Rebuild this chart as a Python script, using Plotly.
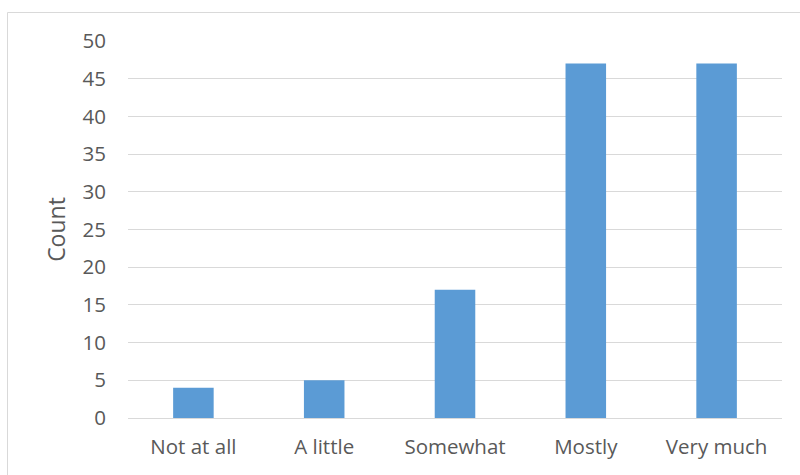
import plotly.graph_objects as go

categories = ["Not at all", "A little", "Somewhat", "Mostly", "Very much"]
counts = [4, 5, 17, 47, 47]
y_ticks = [0, 5, 10, 15, 20, 25, 30, 35, 40, 45, 50]

FONT = "Open Sans"
TXT = "#595959"

fig = go.Figure(go.Bar(x=categories, y=counts, marker=dict(color="#5B9BD5", line=dict(width=0)),
                       width=0.31))

L, R, T, B = 128, 18, 41, 57
W, H = 800, 475
pw, ph = W - L - R, H - T - B

fig.update_layout(
    width=W, height=H,
    margin=dict(l=L, r=R, t=T, b=B, pad=0),
    paper_bgcolor="white", plot_bgcolor="white",
    font=dict(family=FONT, color=TXT, size=20.5),
    showlegend=False,
    bargap=0.69,
    xaxis=dict(showgrid=False, showline=False, zeroline=False, ticks="",
               tickfont=dict(size=20.5, color=TXT, family=FONT), ticklabelstandoff=14),
    yaxis=dict(range=[0, 50], tickvals=y_ticks, showgrid=True, gridcolor="#D9D9D9", gridwidth=1,
               zeroline=True, zerolinecolor="#D9D9D9", zerolinewidth=1, showline=False, ticks="",
               tickfont=dict(size=20.5, color=TXT, family=FONT), ticklabelstandoff=21,
               title=dict(text="Count", font=dict(size=23, color=TXT, family=FONT), standoff=10)),
    shapes=[dict(type="rect", xref="paper", yref="paper",
                 x0=(7.5 - L) / pw, x1=(W + 20 - L) / pw,
                 y0=-(B + 20) / ph, y1=1 + (T - 12.5) / ph,
                 line=dict(color="#D9D9D9", width=1), fillcolor="rgba(0,0,0,0)", layer="below")],
)

fig.write_html("out.html")
